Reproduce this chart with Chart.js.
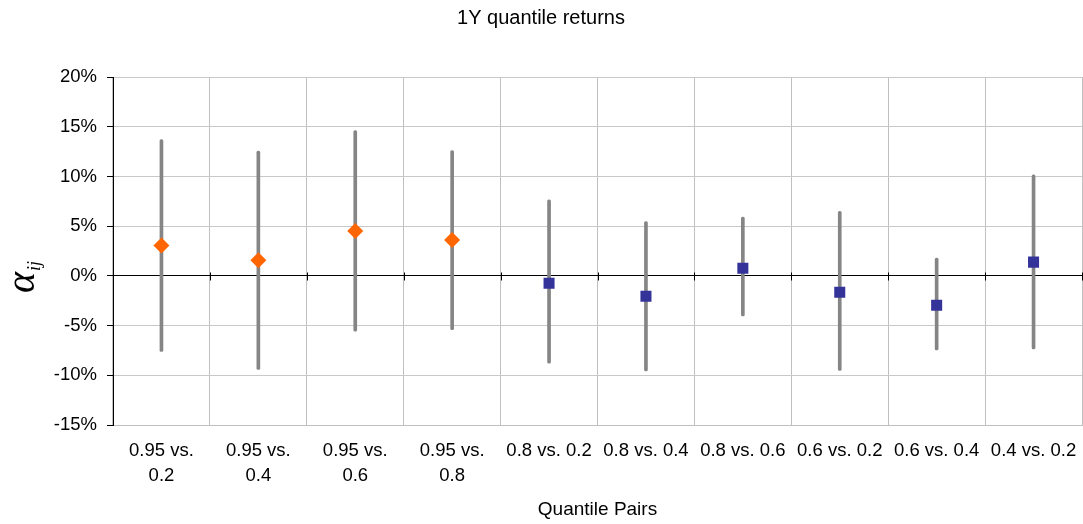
<!DOCTYPE html>
<html>
<head>
<meta charset="utf-8">
<script src="https://cdn.jsdelivr.net/npm/chart.js@4"></script>
<style>
  html, body { margin: 0; padding: 0; background: #fff; }
  #wrap { width: 1083px; height: 524px; position: relative; }
</style>
</head>
<body>
<div id="wrap"><canvas id="c" width="1083" height="524"></canvas></div>
<script>
// Quantile pairs on the category axis (two-line labels where they wrap)
const categories = [
  ['0.95 vs.', '0.2'], ['0.95 vs.', '0.4'], ['0.95 vs.', '0.6'], ['0.95 vs.', '0.8'],
  '0.8 vs. 0.2', '0.8 vs. 0.4', '0.8 vs. 0.6', '0.6 vs. 0.2', '0.6 vs. 0.4', '0.4 vs. 0.2'
];

// Point estimates of alpha (%), top quantile pairs and the remaining pairs
const topPairAlpha   = [3.05, 1.58, 4.52, 3.6, null, null, null, null, null, null];
const otherPairAlpha = [null, null, null, null, -0.74, -2.04, 0.77, -1.64, -2.95, 1.38];

// Interval bounds (%)
const lowerBound = [-7.6, -9.4, -5.56, -5.4, -8.77, -9.55, -4.02, -9.5, -7.44, -7.34];
const upperBound = [13.7, 12.56, 14.6, 12.6, 7.64, 5.46, 5.9, 6.5, 1.78, 10.15];

// Y axis ticks (%)
const yTicks = [-15, -10, -5, 0, 5, 10, 15, 20];

const FONT = "'Liberation Sans', Arial, sans-serif";

// Small cross ticks on the zero line at each category boundary
const zeroTicks = {
  id: 'zeroTicks',
  afterDatasetsDraw(chart) {
    const x = chart.scales.x, y = chart.scales.y;
    const y0 = Math.round(y.getPixelForValue(0)) + 0.5;
    const ctx = chart.ctx;
    ctx.save();
    ctx.strokeStyle = '#000';
    ctx.lineWidth = 1;
    ctx.beginPath();
    for (let i = 0; i <= categories.length; i++) {
      const px = Math.round(x.left + i * (x.right - x.left) / categories.length) + 0.5;
      ctx.moveTo(px, y0 - 4);
      ctx.lineTo(px, y0 + 4);
    }
    ctx.stroke();
    ctx.restore();
  }
};

// Rotated y-axis title: alpha with subscript ij
const alphaTitle = {
  id: 'alphaTitle',
  afterDraw(chart) {
    const ctx = chart.ctx;
    ctx.save();
    ctx.translate(34, 293);
    ctx.rotate(-Math.PI / 2);
    ctx.fillStyle = '#000';
    ctx.textBaseline = 'alphabetic';
    ctx.textAlign = 'left';
    ctx.font = "italic 40px 'Liberation Serif', 'Times New Roman', serif";
    ctx.fillText('α', 0, 0);
    const w = ctx.measureText('α').width;
    ctx.font = "italic 18px 'Liberation Serif', 'Times New Roman', serif";
    ctx.fillText('ij', w + 1, 6);
    ctx.restore();
  }
};

new Chart(document.getElementById('c'), {
  type: 'bar',
  data: {
    labels: categories,
    datasets: [
      {
        type: 'line',
        label: 'top pairs',
        data: topPairAlpha,
        showLine: false,
        pointStyle: 'rectRot',
        pointRadius: 8,
        pointHoverRadius: 8,
        pointBackgroundColor: '#FF6600',
        pointBorderColor: '#FF6600',
        pointBorderWidth: 0,
        order: 1
      },
      {
        type: 'line',
        label: 'other pairs',
        data: otherPairAlpha,
        showLine: false,
        pointStyle: 'rect',
        pointRadius: 7.8,
        pointHoverRadius: 7.8,
        pointBackgroundColor: '#333399',
        pointBorderColor: '#333399',
        pointBorderWidth: 0,
        order: 1
      },
      {
        type: 'bar',
        label: 'interval',
        data: lowerBound.map((lo, i) => [lo, upperBound[i]]),
        backgroundColor: '#858585',
        borderWidth: 0,
        borderRadius: 1.5,
        borderSkipped: false,
        barThickness: 3,
        grouped: false,
        order: 2
      }
    ]
  },
  options: {
    responsive: false,
    animation: false,
    layout: { autoPadding: false, padding: { left: 0, right: 1, top: 0, bottom: 0 } },
    plugins: {
      legend: { display: false },
      tooltip: { enabled: false },
      title: {
        display: true,
        text: '1Y quantile returns',
        color: '#000',
        font: { family: FONT, size: 20, weight: 'normal', lineHeight: 1.2 },
        padding: { top: 6.5, bottom: 46.5 }
      }
    },
    scales: {
      x: {
        type: 'category',
        offset: true,
        grid: {
          display: true,
          offset: true,
          color: '#c0c0c0',
          drawTicks: true,
          tickLength: 13,
          tickColor: 'rgba(0,0,0,0)'
        },
        border: { display: true, color: '#c0c0c0' },
        ticks: {
          color: '#000',
          font: { family: FONT, size: 18.5, lineHeight: 1.35 },
          padding: 0,
          maxRotation: 0,
          minRotation: 0,
          autoSkip: false
        },
        title: {
          display: true,
          text: 'Quantile Pairs',
          color: '#000',
          font: { family: FONT, size: 19, lineHeight: 1.2 },
          padding: { top: 4, bottom: 2.6 }
        },
        afterFit(scale) {
          scale.height = 99;
          scale.paddingLeft = 0;
          scale.paddingRight = 0;
        }
      },
      y: {
        type: 'linear',
        min: -15,
        max: 20,
        afterBuildTicks(scale) { scale.ticks = yTicks.map(v => ({ value: v })); },
        grid: {
          color: ctx => (ctx.tick && ctx.tick.value === 0 ? '#000' : '#c8c8c8'),
          tickColor: '#000',
          tickLength: 6
        },
        border: { display: true, color: '#000' },
        ticks: {
          color: '#000',
          font: { family: FONT, size: 18.5 },
          padding: 10,
          callback: v => v + '%'
        },
        afterFit(scale) { scale.width = 113; }
      }
    }
  },
  plugins: [zeroTicks, alphaTitle]
});
</script>
</body>
</html>
